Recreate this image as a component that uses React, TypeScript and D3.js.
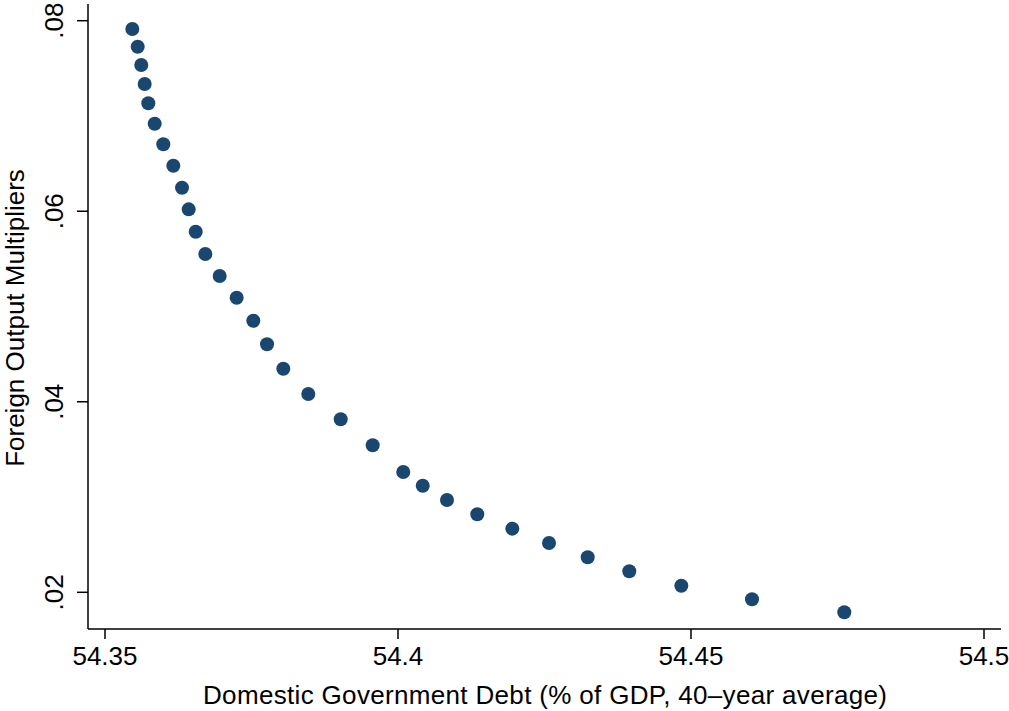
import React from "react";
import * as d3 from "d3";

const debtValues: number[] = [
  54.35466, 54.35558, 54.35619, 54.35677, 54.35739, 54.35848, 54.35995, 54.36166,
  54.36314, 54.36428, 54.36548, 54.36712, 54.36957, 54.37247, 54.37531, 54.37765,
  54.38043, 54.38469, 54.39022, 54.39568, 54.4009, 54.40422, 54.40836, 54.41353,
  54.41951, 54.42577, 54.43237, 54.43947, 54.44835, 54.46041, 54.47616,
];
const multiplierValues: number[] = [
  0.07913, 0.07727, 0.07535, 0.07336, 0.07133, 0.06919, 0.06703, 0.06478,
  0.06247, 0.0602, 0.05785, 0.05551, 0.0532, 0.05092, 0.04851, 0.04603,
  0.04347, 0.04082, 0.03816, 0.03543, 0.03263, 0.03119, 0.02969, 0.02819,
  0.02668, 0.02518, 0.02368, 0.02221, 0.02069, 0.01927, 0.0179,
];
const xTicks: number[] = [54.35, 54.4, 54.45, 54.5];
const xTickLabels: string[] = ["54.35", "54.4", "54.45", "54.5"];
const yTicks: number[] = [0.02, 0.04, 0.06, 0.08];
const yTickLabels: string[] = [".02", ".04", ".06", ".08"];
const xTitle = "Domestic Government Debt (% of GDP, 40\u2013year average)";
const yTitle = "Foreign Output Multipliers";

const W = 1009;
const H = 711;
const left = 88;
const right = 1001;
const top = 4;
const bottom = 629;

export default function App() {
  const x = d3.scaleLinear().domain([54.35, 54.5]).range([105, 984]);
  const y = d3.scaleLinear().domain([0.02, 0.08]).range([592.3, 20.7]);
  const font = "Liberation Sans, Arial, Helvetica, sans-serif";
  const color = "#1a476f";
  const fs = 26;
  const pts = debtValues.map((d, i) => ({ x: d, y: multiplierValues[i] }));
  return (
    <svg
      width={W}
      height={H}
      style={{ position: "absolute", left: 0, top: 0, background: "#fff" }}
      fontFamily={font}
    >
      <rect x={0} y={0} width={W} height={H} fill="#fff" />
      <line x1={left} x2={left} y1={top} y2={bottom} stroke="#000" strokeWidth={1.5} />
      <line x1={left} x2={right} y1={bottom} y2={bottom} stroke="#000" strokeWidth={1.5} />
      {yTicks.map((t, i) => (
        <g key={"y" + i}>
          <line x1={left - 11} x2={left} y1={y(t)} y2={y(t)} stroke="#000" strokeWidth={1.5} />
          <text
            transform={`translate(${63},${y(t)}) rotate(-90)`}
            textAnchor="middle"
            fontSize={fs}
            fill="#000"
          >
            {yTickLabels[i]}
          </text>
        </g>
      ))}
      {xTicks.map((t, i) => (
        <g key={"x" + i}>
          <line x1={x(t)} x2={x(t)} y1={bottom} y2={bottom + 10} stroke="#000" strokeWidth={1.5} />
          <text x={x(t)} y={664.5} textAnchor="middle" fontSize={fs} fill="#000">
            {xTickLabels[i]}
          </text>
        </g>
      ))}
      <text
        x={(left + right) / 2 + 0.5}
        y={703.5}
        textAnchor="middle"
        fontSize={fs}
        fill="#000"
        textLength={684}
        lengthAdjust="spacing"
      >
        {xTitle}
      </text>
      <text
        transform={`translate(${24},${318}) rotate(-90)`}
        textAnchor="middle"
        fontSize={fs}
        fill="#000"
      >
        {yTitle}
      </text>
      {pts.map((p, i) => (
        <circle key={i} cx={x(p.x)} cy={y(p.y)} r={7} fill={color} />
      ))}
    </svg>
  );
}
